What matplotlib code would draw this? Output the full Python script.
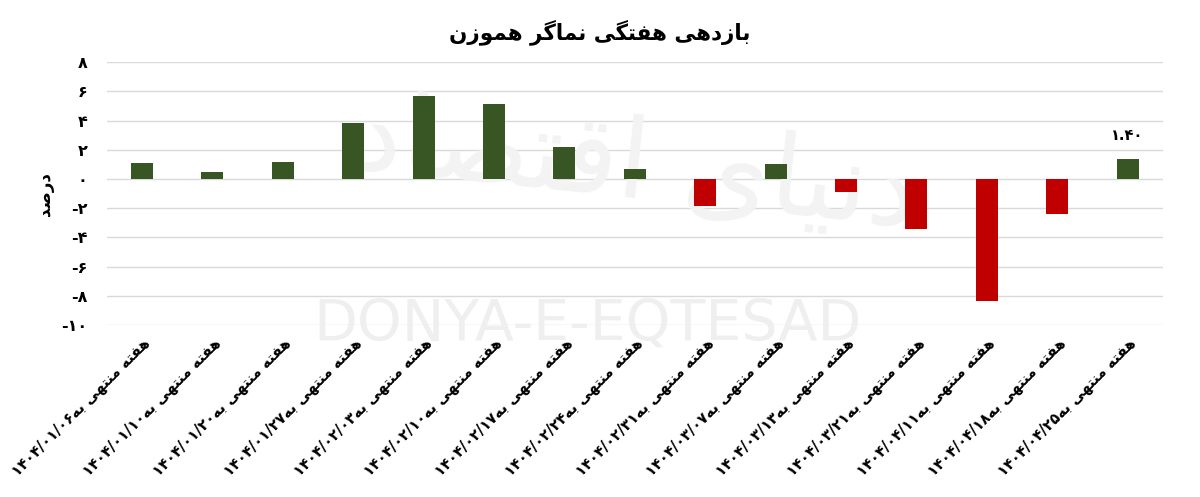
import matplotlib
matplotlib.use("Agg")
import matplotlib.pyplot as plt
import numpy as np

# chart data
title = "بازدهی هفتگی نماگر هموزن"
y_title = "درصد"
label_prefix = "هفته منتهی به"
weeks = ["۱۴۰۴/۰۱/۰۶", "۱۴۰۴/۰۱/۱۰", "۱۴۰۴/۰۱/۲۰", "۱۴۰۴/۰۱/۲۷", "۱۴۰۴/۰۲/۰۳",
         "۱۴۰۴/۰۲/۱۰", "۱۴۰۴/۰۲/۱۷", "۱۴۰۴/۰۲/۲۴", "۱۴۰۴/۰۲/۳۱", "۱۴۰۴/۰۳/۰۷",
         "۱۴۰۴/۰۳/۱۳", "۱۴۰۴/۰۳/۲۱", "۱۴۰۴/۰۴/۱۱", "۱۴۰۴/۰۴/۱۸", "۱۴۰۴/۰۴/۲۵"]
returns = [1.12, 0.45, 1.17, 3.81, 5.69, 5.10, 2.21, 0.70, -1.88, 1.05,
           -0.87, -3.43, -8.37, -2.37, 1.40]
yticks = [8, 6, 4, 2, 0, -2, -4, -6, -8, -10]
last_label = "۱.۴۰"
watermark_fa = "دنیای اقتصاد"
watermark_en = "DONYA-E-EQTESAD"

GREEN = "#375623"
RED = "#C00000"

# matplotlib has no arabic shaping, so do it by hand (iso, fin, init, med)
FORMS = {
    "ا": ("\uFE8D", "\uFE8E"), "د": ("\uFEA9", "\uFEAA"), "ذ": ("\uFEAB", "\uFEAC"),
    "ر": ("\uFEAD", "\uFEAE"), "ز": ("\uFEAF", "\uFEB0"), "و": ("\uFEED", "\uFEEE"),
    "ب": ("\uFE8F", "\uFE90", "\uFE91", "\uFE92"), "ت": ("\uFE95", "\uFE96", "\uFE97", "\uFE98"),
    "ص": ("\uFEB9", "\uFEBA", "\uFEBB", "\uFEBC"), "ف": ("\uFED1", "\uFED2", "\uFED3", "\uFED4"),
    "ق": ("\uFED5", "\uFED6", "\uFED7", "\uFED8"), "ن": ("\uFEE5", "\uFEE6", "\uFEE7", "\uFEE8"),
    "م": ("\uFEE1", "\uFEE2", "\uFEE3", "\uFEE4"), "ه": ("\uFEE9", "\uFEEA", "\uFEEB", "\uFEEC"),
    "ی": ("\uFBFC", "\uFBFD", "\uFBFE", "\uFBFF"), "گ": ("\uFB92", "\uFB93", "\uFB94", "\uFB95"),
}


def shape(s):
    out = []
    for i, ch in enumerate(s):
        if ch not in FORMS:
            out.append(ch)
            continue
        prev = s[i - 1] if i > 0 else ""
        nxt = s[i + 1] if i + 1 < len(s) else ""
        join_prev = prev in FORMS and len(FORMS[prev]) == 4
        join_next = len(FORMS[ch]) == 4 and nxt in FORMS
        f = FORMS[ch]
        if join_prev and join_next:
            out.append(f[3])
        elif join_prev:
            out.append(f[1])
        elif join_next:
            out.append(f[2])
        else:
            out.append(f[0])
    return "".join(out)


def fa(s):
    # simple bidi: numbers stay LTR, everything else is reversed
    shaped = shape(s)
    runs = []
    for ch in shaped:
        isnum = ch in "۰۱۲۳۴۵۶۷۸۹0123456789/."
        if runs and runs[-1][0] == isnum:
            runs[-1][1] += ch
        else:
            runs.append([isnum, ch])
    return "".join(r if n else r[::-1] for n, r in reversed(runs))


to_fa = str.maketrans("0123456789", "۰۱۲۳۴۵۶۷۸۹")

plt.rcParams["font.family"] = ["DejaVu Sans"]
plt.rcParams["font.weight"] = "bold"

fig = plt.figure(figsize=(12, 4.97), dpi=100)
ax = fig.add_axes([0.089, 0.346, 0.88, 0.529])

x = np.arange(len(returns))
colors = [GREEN if v >= 0 else RED for v in returns]
ax.bar(x, returns, width=0.31, color=colors, zorder=3)

ax.set_ylim(-10, 8)
ax.set_xlim(-0.5, len(returns) - 0.5)
ax.set_yticks(yticks)
ax.set_yticklabels([str(t).translate(to_fa) for t in yticks], fontsize=11.5, fontweight="bold")
ax.yaxis.grid(True, color="#d9d9d9", linewidth=1, zorder=0)
ax.set_axisbelow(True)
for sp in ax.spines.values():
    sp.set_visible(False)
ax.tick_params(length=0, pad=14)

ax.set_xticks(x)
ax.set_xticklabels([fa(label_prefix + w) for w in weeks], rotation=45, ha="right",
                   rotation_mode="anchor", fontsize=10.5, fontweight="bold")
ax.tick_params(axis="x", pad=7)

ax.set_ylabel(fa(y_title), fontsize=12, fontweight="bold", labelpad=5)

ax.annotate(last_label, (x[-1], returns[-1]), xytext=(0, 11), textcoords="offset points",
            ha="center", va="bottom", fontsize=10.5, fontweight="bold")

# watermarks
ax.text(0.455, 0.0, watermark_en, transform=ax.transAxes, ha="center", va="center",
        fontsize=41, color="#efefef", fontweight="normal", zorder=1, clip_on=False)
ax.text(0.5, 0.6, fa(watermark_fa), transform=ax.transAxes, ha="center", va="center",
        fontsize=80, color="#f3f3f3", fontweight="normal", zorder=1, rotation=-6)

fig.text(0.5, 0.935, fa(title), ha="center", va="center", fontsize=15.5, fontweight="bold")

fig.savefig("out.png", dpi=100, facecolor="white")
